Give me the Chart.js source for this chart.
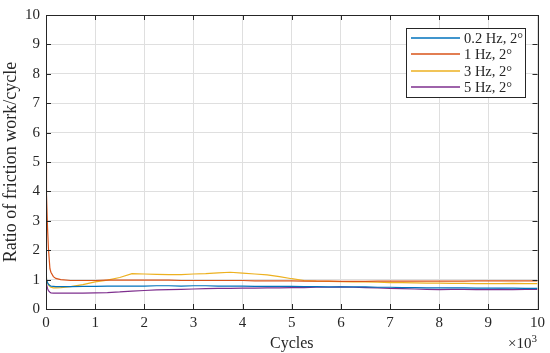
<!DOCTYPE html>
<html lang="en">
<head>
<meta charset="UTF-8">
<title>Ratio of friction work per cycle</title>
<script src="https://cdn.jsdelivr.net/npm/chart.js@4"></script>
<style>
  * { margin: 0; padding: 0; }
  body { background: #fff; width: 550px; height: 353px; overflow: hidden; }
  canvas { display: block; }
</style>
</head>
<body>
<canvas id="chart" width="550" height="353"></canvas>
<script>
// ── Data (cycles in thousands) ──────────────────────────────────────────────
const cycles = [0, 0.01, 0.03, 0.05, 0.08, 0.1, 0.15, 0.2, 0.3, 0.5, 0.75, 1, 1.25, 1.5, 1.75, 2, 2.25, 2.5, 2.75, 3,
  3.25, 3.5, 3.75, 4, 4.25, 4.5, 4.75, 5, 5.25, 5.5, 5.75, 6, 6.25, 6.5, 6.75, 7, 7.25, 7.5, 7.75, 8,
  8.25, 8.5, 8.75, 9, 9.25, 9.5, 9.75, 10];

const hz02 = [1.05, 1.0, 0.9, 0.84, 0.8, 0.78, 0.77, 0.76, 0.76, 0.76, 0.77, 0.77, 0.78, 0.78, 0.78, 0.78, 0.79, 0.79, 0.78, 0.79,
  0.79, 0.78, 0.78, 0.78, 0.77, 0.77, 0.77, 0.77, 0.76, 0.76, 0.75, 0.75, 0.75, 0.75, 0.74, 0.74, 0.73, 0.73, 0.72, 0.72,
  0.72, 0.72, 0.71, 0.71, 0.71, 0.71, 0.7, 0.7];

const hz1 = [5.0, 3.9, 2.8, 2.05, 1.37, 1.25, 1.1, 1.04, 1.0, 0.97, 0.97, 0.97, 0.98, 0.98, 0.98, 0.98, 0.98, 0.98, 0.97, 0.97,
  0.97, 0.97, 0.97, 0.97, 0.96, 0.96, 0.96, 0.96, 0.95, 0.95, 0.95, 0.94, 0.94, 0.94, 0.95, 0.95, 0.95, 0.95, 0.95, 0.95,
  0.95, 0.95, 0.96, 0.96, 0.96, 0.96, 0.96, 0.96];

const hz3 = [1.1, 1.0, 0.9, 0.82, 0.76, 0.74, 0.72, 0.72, 0.73, 0.76, 0.83, 0.92, 0.98, 1.07, 1.2, 1.19, 1.18, 1.17, 1.17, 1.19,
  1.2, 1.23, 1.25, 1.22, 1.19, 1.16, 1.1, 1.03, 0.97, 0.95, 0.94, 0.93, 0.92, 0.92, 0.91, 0.9, 0.9, 0.89, 0.88, 0.88,
  0.87, 0.87, 0.86, 0.86, 0.86, 0.87, 0.86, 0.86];

const hz5 = [1.0, 0.85, 0.7, 0.62, 0.57, 0.55, 0.54, 0.54, 0.54, 0.54, 0.54, 0.55, 0.56, 0.58, 0.61, 0.63, 0.65, 0.66, 0.67, 0.68,
  0.69, 0.7, 0.7, 0.71, 0.71, 0.72, 0.72, 0.73, 0.73, 0.74, 0.74, 0.75, 0.74, 0.73, 0.72, 0.7, 0.69, 0.68, 0.67, 0.66,
  0.67, 0.67, 0.66, 0.66, 0.67, 0.66, 0.67, 0.67];

const seriesLabels = ['0.2 Hz, 2°', '1 Hz, 2°', '3 Hz, 2°', '5 Hz, 2°'];
const seriesValues = [hz02, hz1, hz3, hz5];
const seriesColors = ['#0072BD', '#D95319', '#EDB120', '#7E2F8E'];

const xTicks = [0, 1, 2, 3, 4, 5, 6, 7, 8, 9, 10];
const yTicks = [0, 1, 2, 3, 4, 5, 6, 7, 8, 9, 10];

const SERIF = "'Liberation Serif', 'DejaVu Serif', serif";
const axisColor = '#262626';

// ── Plugins ─────────────────────────────────────────────────────────────────
// box + inward ticks, MATLAB style
const boxPlugin = {
  id: 'box',
  afterDatasetsDraw(chart) {
    const { ctx, chartArea: a, scales: { x, y } } = chart;
    ctx.save();
    ctx.strokeStyle = axisColor;
    ctx.lineWidth = 1;
    ctx.beginPath();
    for (const v of xTicks) {
      const px = Math.round(x.getPixelForValue(v)) + 0.5;
      ctx.moveTo(px, a.bottom); ctx.lineTo(px, a.bottom - 5);
      ctx.moveTo(px, a.top); ctx.lineTo(px, a.top + 5);
    }
    for (const v of yTicks) {
      const py = Math.round(y.getPixelForValue(v)) + 0.5;
      ctx.moveTo(a.left, py); ctx.lineTo(a.left + 5, py);
      ctx.moveTo(a.right, py); ctx.lineTo(a.right - 5, py);
    }
    ctx.stroke();
    ctx.strokeRect(Math.round(a.left) + 0.5, Math.round(a.top) + 0.5,
      Math.round(a.right - a.left), Math.round(a.bottom - a.top));

    // ×10^3 exponent label
    ctx.fillStyle = axisColor;
    ctx.font = `15px ${SERIF}`;
    ctx.textAlign = 'right';
    ctx.textBaseline = 'alphabetic';
    ctx.fillText('×10', a.right - 6, a.bottom + 39);
    ctx.font = `11px ${SERIF}`;
    ctx.textAlign = 'left';
    ctx.fillText('3', a.right - 6, a.bottom + 33);
    ctx.restore();
  }
};

// legend box inside the top-right corner
const legendPlugin = {
  id: 'insideLegend',
  afterDraw(chart) {
    const { ctx, chartArea: a } = chart;
    const w = 119, h = 69;
    const left = Math.round(a.right - 13 - w), top = Math.round(a.top + 13);
    ctx.save();
    ctx.fillStyle = '#fff';
    ctx.fillRect(left, top, w, h);
    ctx.strokeStyle = axisColor;
    ctx.lineWidth = 1;
    ctx.strokeRect(left + 0.5, top + 0.5, w, h);
    ctx.font = `14.5px ${SERIF}`;
    ctx.textBaseline = 'middle';
    ctx.textAlign = 'left';
    seriesLabels.forEach((label, i) => {
      const cy = Math.round(top + 10 + i * 16.3);
      ctx.strokeStyle = seriesColors[i];
      ctx.lineWidth = 1.5;
      ctx.beginPath();
      ctx.moveTo(left + 5, cy);
      ctx.lineTo(left + 54, cy);
      ctx.stroke();
      ctx.fillStyle = axisColor;
      ctx.fillText(label, left + 58, cy + 1);
    });
    ctx.restore();
  }
};

// ── Chart ───────────────────────────────────────────────────────────────────
new Chart(document.getElementById('chart'), {
  type: 'line',
  data: {
    datasets: seriesLabels.map((label, i) => ({
      label,
      data: cycles.map((c, j) => ({ x: c, y: seriesValues[i][j] })),
      borderColor: seriesColors[i],
      borderWidth: 1.2,
      pointRadius: 0,
      tension: 0,
      fill: false
    }))
  },
  options: {
    responsive: false,
    animation: false,
    devicePixelRatio: 1,
    layout: { padding: { top: 10, right: 10, left: 0, bottom: 0 } },
    plugins: { legend: { display: false }, tooltip: { enabled: false } },
    scales: {
      x: {
        type: 'linear', min: 0, max: 10,
        afterBuildTicks: s => { s.ticks = xTicks.map(v => ({ value: v })); },
        afterFit: s => { s.height = 44; },
        grid: { color: '#dfdfdf', drawTicks: false },
        border: { color: axisColor },
        ticks: { color: axisColor, padding: 5, maxRotation: 0, font: { family: SERIF, size: 15 } },
        title: { display: true, text: 'Cycles', color: axisColor, padding: { top: 0, bottom: 0 }, font: { family: SERIF, size: 16 } }
      },
      y: {
        type: 'linear', min: 0, max: 10,
        afterBuildTicks: s => { s.ticks = yTicks.map(v => ({ value: v })); },
        afterFit: s => { s.width = 46; },
        grid: { color: '#dfdfdf', drawTicks: false },
        border: { color: axisColor },
        ticks: { color: axisColor, padding: 6, font: { family: SERIF, size: 15 } },
        title: { display: true, text: 'Ratio of friction work/cycle', color: axisColor, padding: { top: 0, bottom: 0 }, font: { family: SERIF, size: 18 } }
      }
    }
  },
  plugins: [boxPlugin, legendPlugin]
});
</script>
</body>
</html>
